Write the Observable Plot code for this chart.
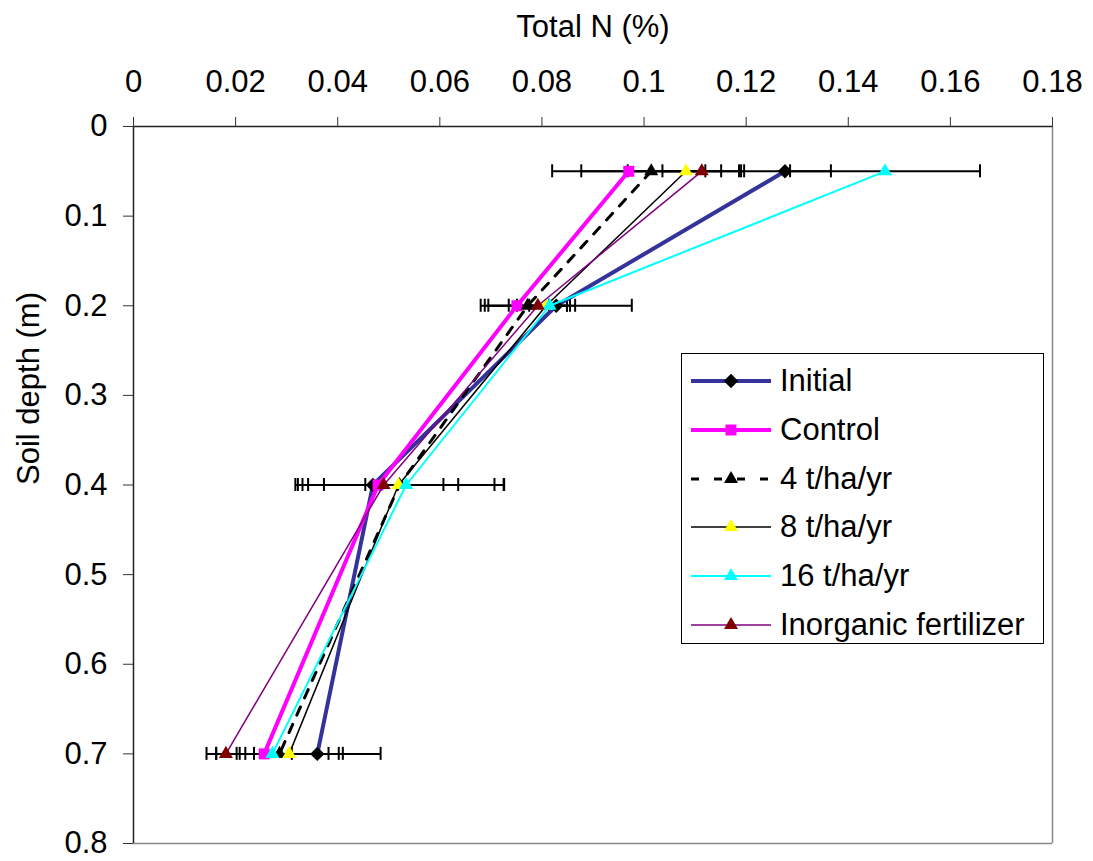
<!DOCTYPE html>
<html>
<head>
<meta charset="utf-8">
<script src="https://cdn.jsdelivr.net/npm/d3@7"></script>
<script src="https://cdn.jsdelivr.net/npm/@observablehq/plot@0.6"></script>
<style>
  html, body { margin: 0; padding: 0; background: white; }
  #wrap { position: relative; width: 1093px; height: 861px; font-family: "Liberation Sans", Arial, sans-serif; }
  #legend { position: absolute; left: 681px; top: 353px; width: 363px; height: 291px; border: 1.5px solid black; background: white; box-sizing: border-box; padding-top: 3px; }
  .row { height: 48.7px; display: flex; align-items: center; font-size: 31px; color: black; }
  .row svg { margin-left: 9px; margin-right: 9px; flex: none; }
</style>
</head>
<body>
<div id="wrap"></div>
<script>
// ---- data ----
const depths = [0.05, 0.2, 0.4, 0.7];
const seriesNames = ["Initial", "Control", "4 t/ha/yr", "8 t/ha/yr", "16 t/ha/yr", "Inorganic fertilizer"];
const initialN  = [0.1276, 0.0828, 0.0469, 0.0360];
const controlN  = [0.0970, 0.0751, 0.0479, 0.0256];
const t4N       = [0.1014, 0.0772, 0.0521, 0.0286];
const t8N       = [0.1082, 0.0808, 0.0519, 0.0305];
const t16N      = [0.1472, 0.0815, 0.0534, 0.0272];
const inorgN    = [0.1113, 0.0792, 0.0490, 0.0181];
const initialErr = [0.0090, 0.0148, 0.0015, 0.0124];
const controlErr = [0.0150, 0.0063, 0.0157, 0.0054];
const t4Err      = [0.0137, 0.0077, 0.0204, 0.0124];
const t8Err      = [0.0114, 0.0057, 0.0188, 0.0097];
const t16Err     = [0.0186, 0.0040, 0.0192, 0.0110];
const inorgErr   = [0.0077, 0.0057, 0.0117, 0.0038];
const xTicks = [0, 0.02, 0.04, 0.06, 0.08, 0.1, 0.12, 0.14, 0.16, 0.18];
const yTicks = [0, 0.1, 0.2, 0.3, 0.4, 0.5, 0.6, 0.7, 0.8];
const xTitle = "Total N (%)";
const yTitle = "Soil depth (m)";

// ---- styles ----
const values = [initialN, controlN, t4N, t8N, t16N, inorgN];
const errors = [initialErr, controlErr, t4Err, t8Err, t16Err, inorgErr];
const lineColor = ["#333399", "#FF00FF", "#000000", "#000000", "#00FFFF", "#800080"];
const lineWidth = [4, 4, 3, 1.5, 2, 1.5];
const lineDash = [null, null, "9,10", null, null, null];
const markColor = ["#000000", "#FF00FF", "#000000", "#FFFF00", "#00FFFF", "#800000"];
const markSymbol = ["diamond2", "square", "triangle", "triangle", "triangle", "triangle"];
const markR = [6.5, 6.2, 5.2, 5.2, 5.2, 5.2];

const rows = [];
seriesNames.forEach((s, k) => depths.forEach((d, i) => rows.push({series: s, k, depth: d, n: values[k][i], err: errors[k][i]})));

const fmt = d => String(+d.toFixed(3));
const FONT = "'Liberation Sans', Arial, sans-serif";

const marks = [
  Plot.ruleX([0.18], {stroke: "#888", strokeWidth: 1.5}),
  Plot.ruleY([0.8], {stroke: "#888", strokeWidth: 1.5}),
  Plot.ruleY([0], {stroke: "#222", strokeWidth: 1.5}),
  Plot.ruleX([0], {stroke: "#222", strokeWidth: 1.5}),
  Plot.axisX(xTicks, {anchor: "top", tickSize: 10, tickPadding: 25, tickFormat: fmt, fontSize: 31, label: null, stroke: "#333"}),
  Plot.axisY(yTicks, {anchor: "left", tickSize: 10, tickPadding: 16, tickFormat: fmt, fontSize: 31, label: null, stroke: "#333"}),
  Plot.text([xTitle], {frameAnchor: "top", lineAnchor: "bottom", dy: -90, fontSize: 31, text: d => d}),
  Plot.text([yTitle], {frameAnchor: "left", lineAnchor: "middle", dx: -104, rotate: -90, fontSize: 31, text: d => d}),
  // error bars
  Plot.link(rows, {x1: d => d.n - d.err, x2: d => d.n + d.err, y1: "depth", y2: "depth", stroke: "black", strokeWidth: 2}),
  Plot.ruleX(rows, {x: d => d.n - d.err, y1: "depth", y2: "depth", insetTop: -6.5, insetBottom: -6.5, stroke: "black", strokeWidth: 2}),
  Plot.ruleX(rows, {x: d => d.n + d.err, y1: "depth", y2: "depth", insetTop: -6.5, insetBottom: -6.5, stroke: "black", strokeWidth: 2})
];
seriesNames.forEach((s, k) => {
  const data = rows.filter(r => r.k === k);
  marks.push(Plot.line(data, {x: "n", y: "depth", stroke: lineColor[k], strokeWidth: lineWidth[k], strokeDasharray: lineDash[k] || undefined}));
  marks.push(Plot.dot(data, {x: "n", y: "depth", symbol: markSymbol[k], r: markR[k], fill: markColor[k], stroke: "none"}));
});

const chart = Plot.plot({
  width: 1093, height: 861,
  marginLeft: 133, marginRight: 41, marginTop: 126, marginBottom: 18,
  x: {domain: [0, 0.18], axis: null},
  y: {domain: [0, 0.8], reverse: true, axis: null},
  style: {fontFamily: FONT, fontSize: "31px", background: "white", color: "black", overflow: "visible"},
  marks
});
const wrap = document.getElementById("wrap");
wrap.appendChild(chart);

// ---- legend ----
const legend = document.createElement("div");
legend.id = "legend";
seriesNames.forEach((s, k) => {
  const row = document.createElement("div");
  row.className = "row";
  const sw = d3.create("svg").attr("width", 80).attr("height", 24);
  sw.append("line").attr("x1", 0).attr("x2", 80).attr("y1", 12).attr("y2", 12)
    .attr("stroke", lineColor[k]).attr("stroke-width", lineWidth[k])
    .attr("stroke-dasharray", lineDash[k] ? "8,15" : null);
  const symMap = {diamond2: d3.symbolDiamond2, square: d3.symbolSquare, triangle: d3.symbolTriangle};
  const size = Math.PI * markR[k] * markR[k];
  sw.append("path").attr("d", d3.symbol(symMap[markSymbol[k]], size)())
    .attr("transform", "translate(40,12)").attr("fill", markColor[k]);
  row.appendChild(sw.node());
  const t = document.createElement("span");
  t.textContent = s;
  row.appendChild(t);
  legend.appendChild(row);
});
wrap.appendChild(legend);
</script>
</body>
</html>
